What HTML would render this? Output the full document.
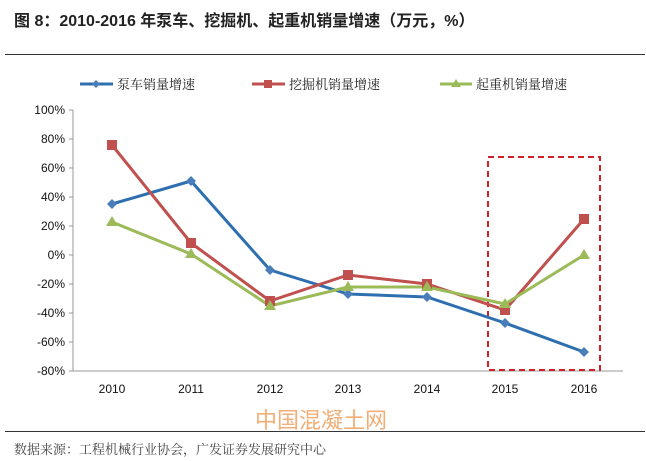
<html><body style="margin:0;width:646px;height:461px;background:#fff;overflow:hidden;position:relative;font-family:'Liberation Sans','Noto Sans CJK SC',sans-serif">
<div style="position:absolute;left:14px;top:7px;font-size:16px;font-weight:bold;color:#222">图 8：2010-2016 年泵车、挖掘机、起重机销量增速（万元，%）</div>
<div style="position:absolute;left:5px;top:54px;width:640px;height:1px;background:#333"></div>
<div style="position:absolute;left:5px;top:431px;width:640px;height:1px;background:#333"></div>
<div style="position:absolute;left:14px;top:439px;font-size:13px;color:#444;font-family:'Noto Serif CJK SC',serif">数据来源：工程机械行业协会，广发证券发展研究中心</div>
<div style="position:absolute;left:255px;top:403px;font-size:22px;color:#f0a060;opacity:.85">中国混凝土网</div>
<svg width="646" height="461" style="position:absolute;left:0;top:0" font-family="Liberation Sans" font-size="12">
<g stroke="#999" stroke-width="1"><line x1="73" y1="110" x2="73" y2="371"/><line x1="73" y1="371" x2="623" y2="371"/>
<line x1="69" y1="110" x2="73" y2="110"/><line x1="69" y1="139" x2="73" y2="139"/><line x1="69" y1="168" x2="73" y2="168"/><line x1="69" y1="197" x2="73" y2="197"/><line x1="69" y1="226" x2="73" y2="226"/><line x1="69" y1="255" x2="73" y2="255"/><line x1="69" y1="284" x2="73" y2="284"/><line x1="69" y1="313" x2="73" y2="313"/><line x1="69" y1="342" x2="73" y2="342"/><line x1="69" y1="371" x2="73" y2="371"/></g>
<g text-anchor="end" fill="#111"><text x="65" y="114">100%</text><text x="65" y="143">80%</text><text x="65" y="172">60%</text><text x="65" y="201">40%</text><text x="65" y="230">20%</text><text x="65" y="259">0%</text><text x="65" y="288">-20%</text><text x="65" y="317">-40%</text><text x="65" y="346">-60%</text><text x="65" y="375">-80%</text></g>
<g text-anchor="middle" fill="#111"><text x="112" y="393">2010</text><text x="191" y="393">2011</text><text x="270" y="393">2012</text><text x="348" y="393">2013</text><text x="427" y="393">2014</text><text x="505" y="393">2015</text><text x="584" y="393">2016</text></g>
<rect x="488" y="157" width="112" height="213" fill="none" stroke="#d0202a" stroke-width="2" stroke-dasharray="6,4"/>
<polyline fill="none" stroke="#2e6fb0" stroke-width="3" points="112,204 191,181 270,270 348,294 427,297 505,323 584,352"/>
<polyline fill="none" stroke="#c0504d" stroke-width="3" points="112,145 191,243 270,301 348,275 427,284 505,310 584,219"/>
<polyline fill="none" stroke="#9bbb59" stroke-width="3" points="112,222 191,254 270,306 348,287 427,287 505,304 584,255"/>
<g fill="#4a7ebb"><path d="M112,199l5,5-5,5-5-5z"/><path d="M191,176l5,5-5,5-5-5z"/><path d="M270,265l5,5-5,5-5-5z"/><path d="M348,289l5,5-5,5-5-5z"/><path d="M427,292l5,5-5,5-5-5z"/><path d="M505,318l5,5-5,5-5-5z"/><path d="M584,347l5,5-5,5-5-5z"/></g>
<g fill="#c0504d"><rect x="107" y="140" width="10" height="10"/><rect x="186" y="238" width="10" height="10"/><rect x="265" y="296" width="10" height="10"/><rect x="343" y="270" width="10" height="10"/><rect x="422" y="279" width="10" height="10"/><rect x="500" y="305" width="10" height="10"/><rect x="579" y="214" width="10" height="10"/></g>
<g fill="#9bbb59"><path d="M112,216l6,10h-12z"/><path d="M191,248l6,10h-12z"/><path d="M270,300l6,10h-12z"/><path d="M348,281l6,10h-12z"/><path d="M427,281l6,10h-12z"/><path d="M505,298l6,10h-12z"/><path d="M584,249l6,10h-12z"/></g>
<line x1="80" y1="84" x2="113" y2="84" stroke="#2e6fb0" stroke-width="3"/><path d="M96,80l4,4-4,4-4-4z" fill="#4a7ebb"/>
<line x1="252" y1="84" x2="285" y2="84" stroke="#c0504d" stroke-width="3"/><rect x="264" y="80" width="8" height="8" fill="#c0504d"/>
<line x1="440" y1="84" x2="472" y2="84" stroke="#9bbb59" stroke-width="3"/><path d="M456,79l5,8h-10z" fill="#9bbb59"/>
<g font-family="Noto Serif CJK SC,serif" font-size="13" fill="#222"><text x="117" y="89">泵车销量增速</text><text x="289" y="89">挖掘机销量增速</text><text x="476" y="89">起重机销量增速</text></g>
</svg>
</body></html>
